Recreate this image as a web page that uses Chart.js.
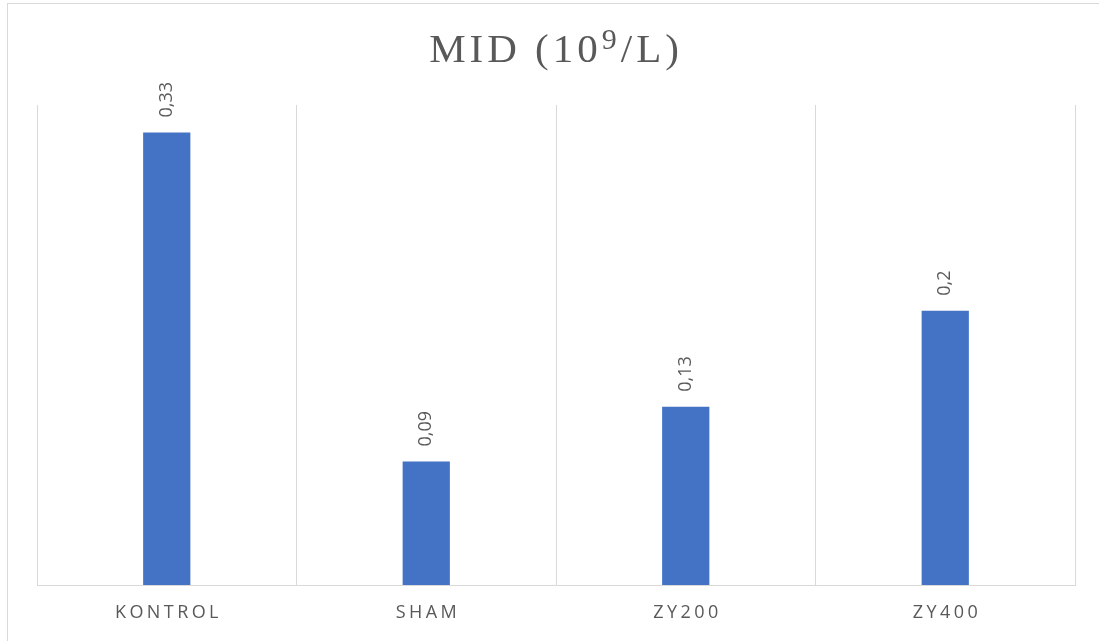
<!DOCTYPE html>
<html>
<head>
<meta charset="utf-8">
<script src="https://cdn.jsdelivr.net/npm/chart.js@4/dist/chart.umd.min.js"></script>
<style>
  html, body { margin: 0; padding: 0; background: #fff; }
  #wrap { position: relative; width: 1099px; height: 641px; overflow: hidden; }
  #frame { position: absolute; left: 7px; top: 3px; width: 1200px; height: 700px;
           border-left: 1px solid #d9d9d9; border-top: 1px solid #d9d9d9; }
  #c { position: absolute; left: 0; top: 0; }
</style>
</head>
<body>
<div id="wrap">
  <div id="frame"></div>
  <canvas id="c" width="1099" height="641"></canvas>
</div>
<script>
const categories = ['KONTROL', 'SHAM', 'ZY200', 'ZY400'];
const midValues = [0.33, 0.09, 0.13, 0.2];
// title pieces: base text, raised exponent, trailing text
const titleParts = ['MID (10', '9', '/L)'];

const TEXT_COLOR = '#595959';
const GRID_COLOR = '#d9d9d9';
const BAR_COLOR = '#4472c4';
const SERIF = '"Liberation Serif", "Times New Roman", serif';

const fmt = v => String(v).replace('.', ',');

// chart heading with a superscript exponent
const heading = {
  id: 'heading',
  afterDraw(chart) {
    const ctx = chart.ctx;
    const spacing = 4;
    const parts = [
      { text: titleParts[0], font: '41px ' + SERIF, dy: 0 },
      { text: titleParts[1], font: '30px ' + SERIF, dy: -13 },
      { text: titleParts[2], font: '41px ' + SERIF, dy: 0 }
    ];
    ctx.save();
    ctx.fillStyle = TEXT_COLOR;
    ctx.textAlign = 'left';
    ctx.textBaseline = 'alphabetic';
    ctx.letterSpacing = spacing + 'px';
    let total = 0;
    parts.forEach(p => { ctx.font = p.font; p.w = ctx.measureText(p.text).width; total += p.w; });
    total -= spacing;
    let x = 554 - total / 2;
    const baseY = 62;
    parts.forEach(p => {
      ctx.font = p.font;
      ctx.fillText(p.text, x, baseY + p.dy);
      x += p.w;
    });
    ctx.restore();
  }
};

// value labels written upright along each bar, above its top
const valueLabels = {
  id: 'valueLabels',
  afterDatasetsDraw(chart) {
    const ctx = chart.ctx;
    const meta = chart.getDatasetMeta(0);
    ctx.save();
    ctx.font = '18px "Open Sans"';
    ctx.fillStyle = TEXT_COLOR;
    ctx.textAlign = 'left';
    ctx.textBaseline = 'middle';
    meta.data.forEach((bar, i) => {
      ctx.save();
      ctx.translate(bar.x, bar.y - 15);
      ctx.rotate(-Math.PI / 2);
      ctx.fillText(fmt(chart.data.datasets[0].data[i]), 0, 0);
      ctx.restore();
    });
    ctx.restore();
  }
};

// spaced-out category names under the axis
const categoryLabels = {
  id: 'categoryLabels',
  afterDraw(chart) {
    const ctx = chart.ctx;
    const xs = chart.scales.x;
    const spacing = 3.4;
    ctx.save();
    ctx.font = '18px "Open Sans"';
    ctx.fillStyle = TEXT_COLOR;
    ctx.textAlign = 'center';
    ctx.textBaseline = 'middle';
    ctx.letterSpacing = spacing + 'px';
    chart.data.labels.forEach((lab, i) => {
      ctx.fillText(lab, xs.getPixelForValue(i) + spacing / 2, xs.bottom + 28);
    });
    ctx.restore();
  }
};

new Chart(document.getElementById('c'), {
  type: 'bar',
  data: {
    labels: categories,
    datasets: [{
      data: midValues,
      backgroundColor: BAR_COLOR,
      borderWidth: 0,
      categoryPercentage: 1,
      barPercentage: 0.182
    }]
  },
  options: {
    responsive: false,
    animation: false,
    layout: { padding: { left: 37, right: 24, top: 105, bottom: 56 } },
    plugins: {
      legend: { display: false },
      tooltip: { enabled: false },
      title: { display: false }
    },
    scales: {
      x: {
        display: true,
        grid: { display: true, offset: true, color: GRID_COLOR, lineWidth: 1, drawTicks: false },
        border: { display: true, color: GRID_COLOR, width: 1 },
        ticks: { display: false }
      },
      y: {
        display: false,
        min: 0,
        max: 0.35
      }
    }
  },
  plugins: [valueLabels, categoryLabels, heading]
});
</script>
</body>
</html>
